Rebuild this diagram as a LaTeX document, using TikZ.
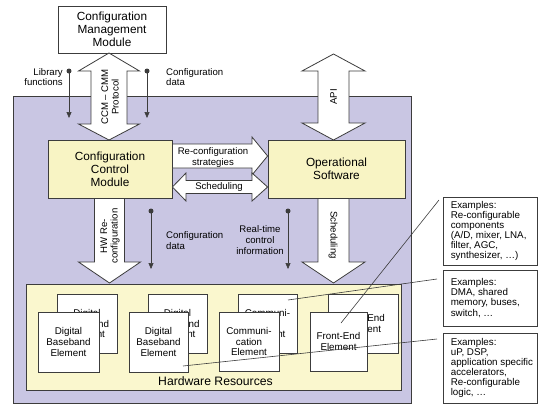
\documentclass[tikz,border=0pt]{standalone}
\usepackage{fontspec}
\setmainfont{Liberation Sans}
\usetikzlibrary{arrows.meta}
\definecolor{purp}{RGB}{201,198,227}
\definecolor{yel}{RGB}{248,244,196}
\definecolor{hwyel}{RGB}{250,247,206}
\definecolor{edge}{RGB}{60,60,60}
\begin{document}
\begin{tikzpicture}[x=1pt,y=-1pt,
  box/.style={draw=edge, line width=0.8pt, inner sep=0pt, align=center},
  blk/.style={draw=edge, fill=white, line width=0.8pt, line join=miter},
  bigtxt/.style={font=\fontsize{11.8}{13}\selectfont},
  eltxt/.style={font=\fontsize{9.8}{10.6}\selectfont},
  lbl/.style={font=\fontsize{9.6}{10.6}\selectfont, inner sep=0pt, align=center},
  extext/.style={font=\fontsize{9.8}{10.1}\selectfont, inner sep=0pt, align=left},
  thinarr/.style={draw=edge, line width=0.6pt, -{Triangle[length=6pt,width=5pt]}},
  dotn/.style={circle, fill=edge, inner sep=0pt, minimum size=5pt},
  callout/.style={draw=edge, line width=0.6pt}]
\useasboundingbox (0,0) rectangle (546,405);

% background
\node[box, fill=purp, minimum width=398pt, minimum height=307pt] (bg) at (212,249.5) {};

% configuration management module
\node[box, fill=white, bigtxt, minimum width=108pt, minimum height=47pt] (cmm) at (112,29.5)
  {Configuration\\Management\\Module};

% CCM-CMM protocol double arrow
\draw[blk] (109,53) -- (139.5,71) -- (127,71) -- (127,124) -- (139.5,124) -- (109,140)
  -- (78.5,124) -- (91,124) -- (91,71) -- (78.5,71) -- cycle;
\node[lbl, rotate=90] (proto) at (110,97) {CCM -- CMM\\Protocol};

% API double arrow
\draw[blk] (333.5,54) -- (365,71) -- (349,71) -- (349,123) -- (365,123) -- (333.5,140)
  -- (302,123) -- (318,123) -- (318,71) -- (302,71) -- cycle;
\node[lbl, rotate=90] (api) at (333.5,97) {API};

% library functions / configuration data
\node[dotn] (lfd) at (69,71) {};
\coordinate (lfe) at (69,118);
\draw[thinarr] (lfd.center) -- (lfe);
\node[lbl, align=right, anchor=east] (lft) at (63,77) {Library\\functions};
\node[dotn] (cdd) at (147,71) {};
\coordinate (cde) at (147,118);
\draw[thinarr] (cdd.center) -- (cde);
\node[lbl, align=left, anchor=west] (cdt) at (166,77) {Configuration\\data};

% main modules
\node[box, fill=yel, bigtxt, minimum width=124pt, minimum height=58pt] (ccm) at (110,169)
  {Configuration\\Control\\Module};
\node[box, fill=yel, bigtxt, minimum width=137pt, minimum height=58pt] (os) at (336.5,169)
  {Operational\\Software};

% horizontal arrows
\draw[blk] (ccm.east |- 0,144) -- (252,144) -- (252,137) -- (os.west |- 0,156) -- (252,175)
  -- (252,168) -- (ccm.east |- 0,168) -- cycle;
\node[lbl] (rcs) at (213,157.5) {Re-configuration\\strategies};
\draw[blk] (ccm.east |- 0,187) -- (186,173) -- (186,180.5) -- (252,180.5) -- (252,173)
  -- (os.west |- 0,187) -- (252,201) -- (252,193.5) -- (186,193.5) -- (186,201) -- cycle;
\node[lbl] (sch) at (219,187.5) {Scheduling};

% hardware resources
\node[box, fill=hwyel, minimum width=375pt, minimum height=106pt] (hw) at (213.5,337) {};
\node[font=\fontsize{12.2}{13}\selectfont, inner sep=0pt] (hwt) at (215.5,381) {Hardware Resources};

% down arrows
\draw[blk] (ccm.south -| 94.5,0) -- (94.5,262) -- (78.5,262) -- (109.5,283) -- (140.5,262)
  -- (124.5,262) -- (ccm.south -| 124.5,0) -- cycle;
\node[lbl, rotate=90] (hwrc) at (110,236) {HW Re-\\configuration};
\draw[blk] (os.south -| 318,0) -- (318,262) -- (302,262) -- (333.5,283) -- (365,262)
  -- (349,262) -- (os.south -| 349,0) -- cycle;
\node[lbl, rotate=-90] (sch2) at (333,235) {Scheduling};

% configuration data / real-time control
\node[dotn] (cd2d) at (151,211) {};
\coordinate (cd2e) at (151,269);
\draw[thinarr] (cd2d.center) -- (cd2e);
\node[lbl, align=left, anchor=west] (cd2t) at (166,240.5) {Configuration\\data};
\node[dotn] (rtd) at (288,211) {};
\coordinate (rte) at (288,269);
\draw[thinarr] (rtd.center) -- (rte);
\node[lbl] (rtt) at (260,240) {Real-time\\control\\information};

% hardware elements (back)
\node[box, fill=white, eltxt, minimum width=60pt, minimum height=59pt] (b1) at (87,323.5) {Digital\\Baseband\\Element};
\node[box, fill=white, eltxt, minimum width=59pt, minimum height=59pt] (b2) at (177.5,323.5) {Digital\\Baseband\\Element};
\node[box, fill=white, eltxt, minimum width=59pt, minimum height=59pt] (b3) at (267.5,323.5) {Communi-\\cation\\Element};
\node[box, fill=white, eltxt, minimum width=70pt, minimum height=59pt] (b4) at (363,323.5) {Front-End\\Element};
% hardware elements (front)
\node[box, fill=white, eltxt, minimum width=61pt, minimum height=60pt] (f1) at (68.5,342) {Digital\\Baseband\\Element};
\node[box, fill=white, eltxt, minimum width=59pt, minimum height=60pt] (f2) at (158.5,342) {Digital\\Baseband\\Element};
\node[box, fill=white, eltxt, minimum width=60pt, minimum height=59pt] (f3) at (249,341.5) {Communi-\\cation\\Element};
\node[box, fill=white, eltxt, minimum width=57pt, minimum height=59pt] (f4) at (338.5,341.5) {Front-End\\Element};

% example boxes
\node[box, fill=white, minimum width=94pt, minimum height=68pt] (e1) at (490,231) {};
\node[extext, anchor=west] (e1t) at ([xshift=8pt]e1.west) {Examples:\\Re-configurable\\components\\(A/D, mixer, LNA,\\filter, AGC,\\synthesizer, \dots)};
\node[box, fill=white, minimum width=94pt, minimum height=56pt] (e2) at (490,298) {};
\node[extext, anchor=west] (e2t) at ([xshift=8pt]e2.west) {Examples:\\DMA, shared\\memory, buses,\\switch, \dots};
\node[box, fill=white, minimum width=94pt, minimum height=70pt] (e3) at (490,368) {};
\node[extext, anchor=west] (e3t) at ([xshift=8pt]e3.west) {Examples:\\uP, DSP,\\application specific\\accelerators,\\Re-configurable\\logic, \dots};

% callout lines
\coordinate (c1s) at (439,200);
\coordinate (c1e) at (341,323);
\draw[callout] (c1s) -- (c1e);
\coordinate (c2s) at (437,279);
\coordinate (c2e) at (288,300);
\draw[callout] (c2s) -- (c2e);
\coordinate (c3s) at (437,339);
\coordinate (c3e) at (183,366);
\draw[callout] (c3s) -- (c3e);
\end{tikzpicture}
\end{document}
